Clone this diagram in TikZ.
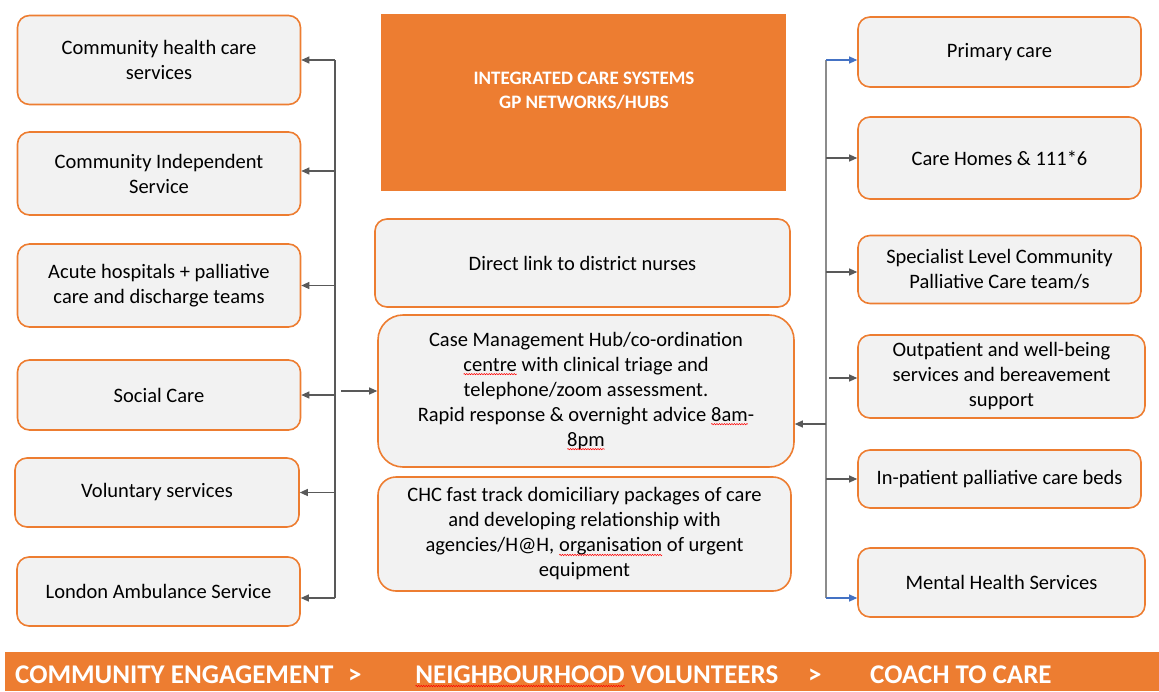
\documentclass[tikz,border=0pt]{standalone}
\usepackage{fontspec}
\setmainfont{Carlito}
\usetikzlibrary{arrows.meta,decorations.pathmorphing}

\definecolor{boxorange}{HTML}{ED7D31}
\definecolor{boxgrey}{HTML}{F2F2F2}
\definecolor{linegrey}{HTML}{595959}
\definecolor{trunkgrey}{HTML}{8C8C8C}
\definecolor{linkblue}{HTML}{4472C4}

% red wavy underline for flagged words
\newcommand\spellmark[1]{\tikz[baseline=(w.base)]{%
  \node[shape=rectangle, draw=none, fill=none, inner sep=0pt, outer sep=0pt,
    minimum width=0pt, minimum height=0pt] (w) {#1};
  \draw[red, sharp corners, line width=0.5pt, decorate, decoration={snake, amplitude=0.7pt, segment length=2.5pt}]
    ([yshift=-3pt]w.base west) -- ([yshift=-3pt]w.base east);}}

\tikzset{
  box/.style={draw=boxorange, line width=1.6pt, fill=boxgrey, rounded corners=12pt,
    align=center, inner sep=0pt, font=\fontsize{20.5}{25}\selectfont},
  arr/.style={-{Triangle[length=8pt,width=7pt]}, linegrey, line width=1.1pt},
  arrblue/.style={arr, linkblue},
  banner/.style={anchor=base west, inner sep=0pt, text=white, font=\fontsize{27}{30}\selectfont\bfseries}
}

\begin{document}
\begin{tikzpicture}[x=1pt,y=-1pt]
\useasboundingbox (0,0) rectangle (1159,691);

% left column
\node[box, minimum width=283, minimum height=89] (chs) at (159,60) {Community health care\\services};
\node[box, minimum width=283, minimum height=83] (cis) at (159,173.5) {Community Independent\\Service};
\node[box, minimum width=283, minimum height=83] (acute) at (159,285.5) {Acute hospitals + palliative\\care and discharge teams};
\node[box, minimum width=283, minimum height=70] (social) at (159,395) {Social Care};
\node[box, minimum width=284, minimum height=69] (vol) at (157,492.5) {Voluntary services};
\node[box, minimum width=283, minimum height=69] (las) at (158.5,591.5) {London Ambulance Service};

% middle column
\node[fill=boxorange, minimum width=405, minimum height=177, inner sep=0pt] (ics) at (583.5,102.5) {};
\node[align=center, text=white, font=\fontsize{19}{24}\selectfont\bfseries] (icstitle) at (584,91)
  {INTEGRATED CARE SYSTEMS\\GP NETWORKS/HUBS};
\node[box, minimum width=415, minimum height=88] (nurses) at (582.5,263) {Direct link to district nurses};
\node[box, rounded corners=25pt, minimum width=416, minimum height=152] (hub) at (586,391)
  {Case Management Hub/co-ordination\\\spellmark{centre} with clinical triage and\\telephone/zoom assessment.\\Rapid response \& overnight advice \spellmark{8am}-\\\spellmark{8pm}};
\node[box, rounded corners=18pt, minimum width=413, minimum height=114] (chc) at (584.5,534)
  {CHC fast track domiciliary packages of care\\and developing relationship with\\agencies/H@H, \spellmark{organisation} of urgent\\equipment};

% right column
\node[box, minimum width=283, minimum height=70] (primary) at (999.5,52) {Primary care};
\node[box, minimum width=283, minimum height=82] (homes) at (999.5,158) {Care Homes \& 111*6};
\node[box, minimum width=283, minimum height=68] (spec) at (999.5,269.5) {Specialist Level Community\\Palliative Care team/s};
\node[box, minimum width=287, minimum height=83] (outp) at (1001.5,376.5) {Outpatient and well-being\\services and bereavement\\support};
\node[box, minimum width=283, minimum height=58] (inp) at (999.5,479) {In-patient palliative care beds};
\node[box, minimum width=287, minimum height=69] (mental) at (1001.5,582.5) {Mental Health Services};

% left trunk
\coordinate (ltop) at (335,60);
\coordinate (lbot) at (335,598);
\draw[linegrey, line width=1.1pt] (ltop) -- (lbot);
\draw[arr] (ltop) -- (chs.east);
\draw[arr] (ltop |- 0,171) -- (cis.east |- 0,171);
\draw[arr] (ltop |- acute.east) -- (acute.east);
\draw[arr] (ltop |- social.east) -- (social.east);
\draw[arr] (ltop |- vol.east) -- (vol.east);
\draw[arr] (lbot) -- (lbot -| las.east);
\draw[arr] ([xshift=6pt]ltop |- hub.west) -- (hub.west);

% right trunk
\coordinate (rtop) at (826,60);
\coordinate (rbot) at (826,598);
\coordinate (rhub) at (826,424);
\draw[trunkgrey, line width=1.4pt] (rtop) -- (rbot);
\draw[arrblue] (rtop) -- (rtop -| primary.west);
\draw[arr] (rtop |- homes.west) -- (homes.west);
\draw[arr] (rtop |- 0,272) -- (spec.west |- 0,272);
\draw[arr] ([xshift=3pt]rtop |- 0,378) -- (outp.west |- 0,378);
\draw[arr] (rtop |- inp.west) -- (inp.west);
\draw[arrblue] (rbot) -- (rbot -| mental.west);
\draw[arr] (rhub) -- (rhub -| hub.east);

% bottom banner
\fill[boxorange] (5,652) rectangle (1159,691);
\node[banner] (engage) at (15,683) {COMMUNITY ENGAGEMENT};
\node[banner] (gt1) at (348,683) {>};
\node[banner] (neigh) at (415,683) {\spellmark{NEIGHBOURHOOD} VOLUNTEERS};
\node[banner] (gt2) at (808,683) {>};
\node[banner] (coach) at (870,683) {COACH TO CARE};

\end{tikzpicture}
\end{document}
